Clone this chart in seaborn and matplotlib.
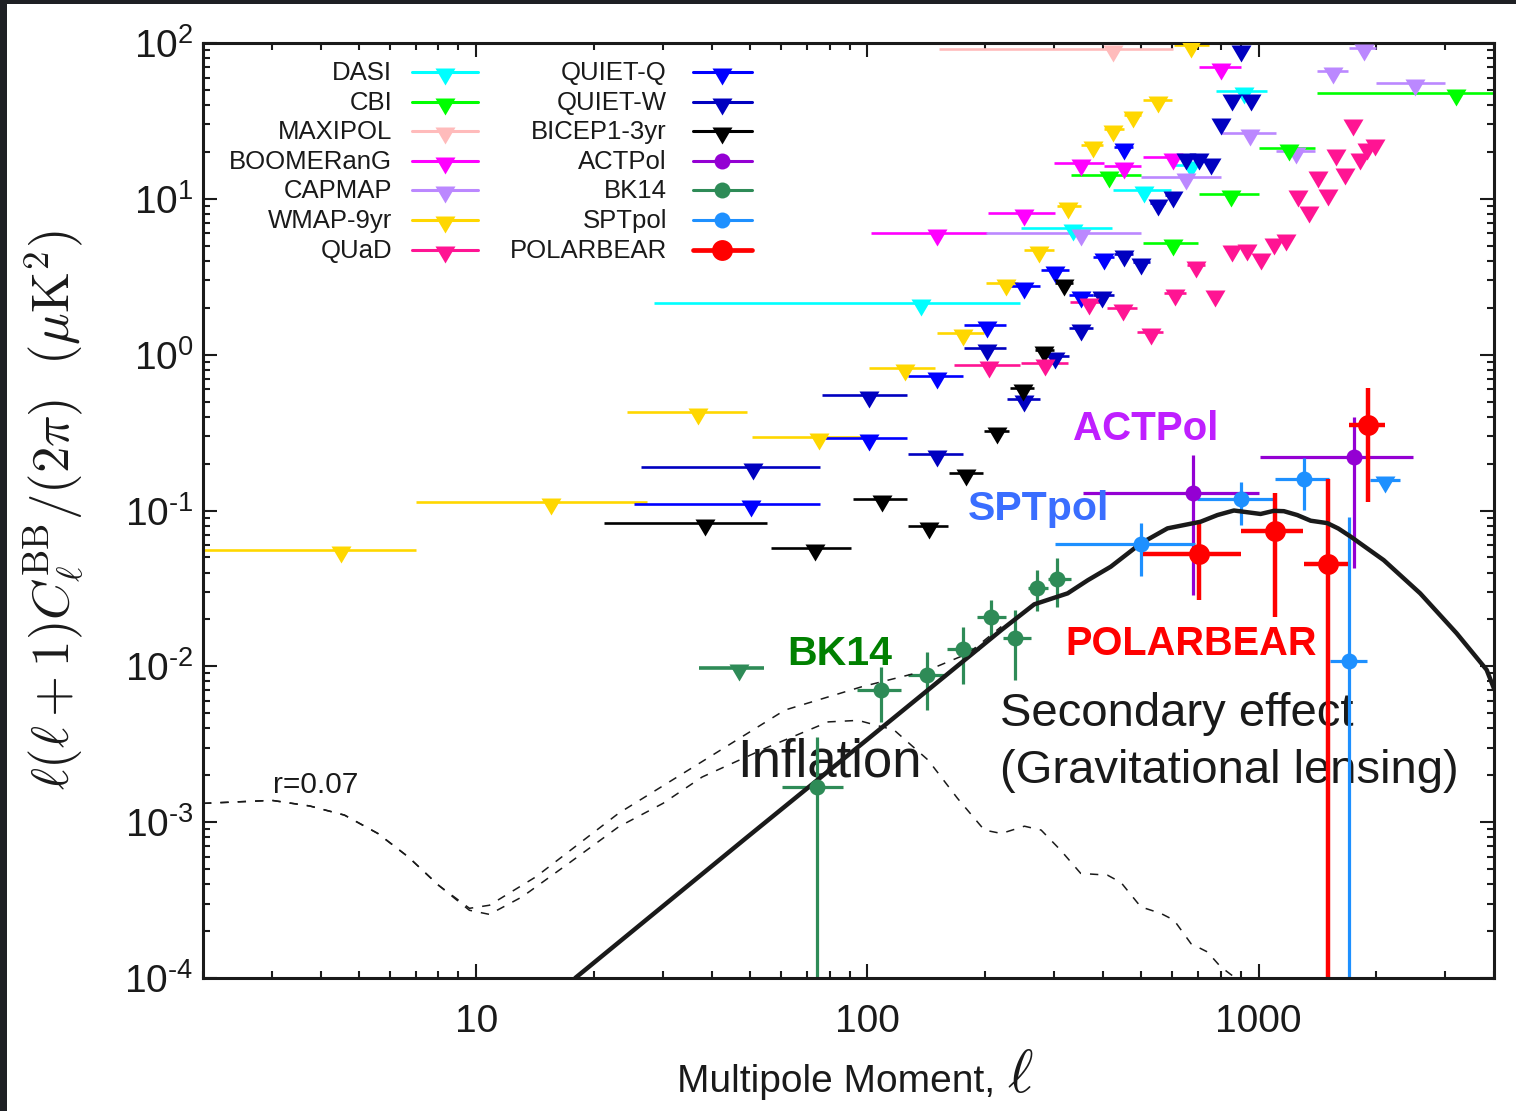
import numpy as np
import matplotlib
matplotlib.use("Agg")
import matplotlib.pyplot as plt
import seaborn as sns
from matplotlib.patches import Rectangle
from matplotlib.ticker import LogLocator, NullFormatter

# theory curves
tens_ell = [2, 3.0, 3.75, 4.6, 5.6, 6.7, 8.0, 9.6, 10.8, 13.1, 17.2, 23.1, 30, 37.8, 55.8, 79.4,
            94.7, 117, 143, 170, 199, 220, 252, 278, 312, 351, 411, 445, 500, 562, 608, 672,
            740, 800, 864, 950]
tens_cl = [1.32e-3, 1.38e-3, 1.27e-3, 1.11e-3, 8.46e-4, 5.98e-4, 3.94e-4, 2.72e-4, 2.56e-4,
           3.32e-4, 5.43e-4, 9.33e-4, 1.32e-3, 1.95e-3, 3.04e-3, 4.40e-3, 4.5e-3, 3.9e-3,
           2.5e-3, 1.42e-3, 8.9e-4, 8.46e-4, 9.42e-4, 8.9e-4, 6.6e-4, 4.69e-4, 4.57e-4,
           4.1e-4, 2.86e-4, 2.6e-4, 2.35e-4, 1.66e-4, 1.47e-4, 1.18e-4, 1.02e-4, 8e-5]
tot_ell = [2, 3.0, 3.75, 4.6, 5.6, 6.7, 8.0, 9.6, 10.8, 14.2, 23.1, 37.8, 61.5, 96.6, 143, 181, 220]
tot_cl = [1.32e-3, 1.38e-3, 1.27e-3, 1.11e-3, 8.46e-4, 5.98e-4, 3.94e-4, 2.8e-4, 2.93e-4,
          4.46e-4, 1.14e-3, 2.45e-3, 5.24e-3, 7.39e-3, 9.46e-3, 1.21e-2, 1.8e-2]
lens_ell = [17.9, 48.6, 100, 160, 220, 267, 325, 366, 419, 500, 585, 711, 785, 865, 935,
            1012, 1094, 1161, 1256, 1359, 1499, 1600, 1720, 2090, 2590, 3210, 3830, 4000]
lens_cl = [1.0e-4, 7.8e-4, 3.4e-3, 8.9e-3, 1.71e-2, 2.5e-2, 2.94e-2, 3.57e-2, 4.36e-2,
           6.15e-2, 7.68e-2, 8.47e-2, 9.35e-2, 1.0e-1, 9.75e-2, 9.5e-2, 9.95e-2, 9.9e-2,
           9.35e-2, 8.6e-2, 8.3e-2, 7.66e-2, 6.8e-2, 4.8e-2, 2.94e-2, 1.63e-2, 9.5e-3, 7.2e-3]

# upper limits: ell, value, bin low, bin high
wmap_ell = [4.5, 15.5, 36.8, 75, 125, 175, 226, 275, 325, 377, 425, 477, 552, 671]
wmap_val = [0.056, 0.113, 0.43, 0.297, 0.817, 1.38, 2.87, 4.69, 9.04, 22.0, 27.9, 34.5, 43.1, 97]
wmap_lo = [2, 7, 24.3, 50.6, 101, 151, 201, 251, 306, 351, 402, 452, 505, 607]
wmap_hi = [7, 27.3, 49.3, 96.6, 149, 199, 242, 300, 351, 400, 452, 502, 600, 745]

dasi_ell = [137, 335, 510, 671, 918]
dasi_val = [2.13, 6.47, 11.4, 16.5, 49.4]
dasi_lo = [28.4, 247, 424, 607, 777]
dasi_hi = [246, 421, 597, 710, 1052]

cbi_ell = [415, 603, 849, 1199, 3200]
cbi_val = [14.2, 5.23, 10.8, 21.3, 48]
cbi_lo = [331, 505, 703, 1000, 1413]
cbi_hi = [500, 702, 1000, 1397, 4000]

maxipol_ell = [424]
maxipol_val = [91]
maxipol_lo = [152]
maxipol_hi = [604]

boom_ell = [151, 252, 351, 452, 603, 804]
boom_val = [6.01, 8.07, 16.9, 16.3, 18.6, 70.5]
boom_lo = [102, 203, 300, 402, 505, 705]
boom_hi = [202, 301, 402, 500, 632, 900]

capmap_ell = [351, 652, 950, 1250, 1553, 1858, 2505]
capmap_val = [6.0, 13.9, 26.3, 20.3, 66.1, 93.3, 55.6]
capmap_lo = [201, 502, 804, 1106, 1413, 1700, 2000]
capmap_hi = [502, 804, 1106, 1397, 1698, 2000, 3000]

quad_ell = [205, 284, 369, 449, 530, 611, 690, 772, 853, 935, 1016, 1094, 1177, 1260, 1344,
            1417, 1502, 1578, 1660, 1744, 1821, 1893, 1988]
quad_val = [0.857, 0.88, 2.19, 1.98, 1.40, 2.47, 3.76, 2.45, 4.76, 4.81, 4.22, 5.31, 5.62,
            10.8, 8.47, 14.2, 10.9, 19.6, 14.9, 30.5, 18.6, 21.6, 22.9]
quad_lo = [166, 247, 330, 410, 490, 572, 655, 750, 830, 910, 990, 1065, 1150, 1235, 1320,
           1395, 1480, 1555, 1640, 1725, 1800, 1875, 1965]
quad_hi = [245, 325, 402, 490, 570, 652, 730, 795, 875, 960, 1040, 1120, 1200, 1285, 1370,
           1440, 1525, 1600, 1680, 1765, 1840, 1910, 2010]

qq_ell = [50.4, 101, 151, 202, 252, 302, 351, 402, 452]
qq_val = [0.110, 0.290, 0.733, 1.55, 2.76, 3.49, 2.42, 4.25, 21.6]
qq_lo = [25.3, 76.7, 127, 177, 228, 278, 328, 378, 428]
qq_hi = [75.7, 126, 176, 226, 277, 327, 377, 427, 477]

qw_ell = [50.9, 101, 151, 202, 252, 302, 351, 399, 452, 502, 552, 603, 652, 705, 755, 800,
          857, 900, 955]
qw_val = [0.189, 0.551, 0.230, 1.10, 0.52, 0.98, 1.48, 2.42, 4.43, 3.94, 9.36, 10.6, 18.6,
          18.5, 17.3, 31.3, 44.2, 92, 44.2]
qw_lo = [26.4, 76.7, 127, 177, 228, 278, 328, 378, 428, 478, 528, 578, 632, 685, 735, 780,
         835, 880, 930]
qw_hi = [75.5, 126, 176, 226, 277, 327, 377, 427, 477, 527, 577, 627, 672, 725, 775, 820,
         880, 920, 980]

bicep_ell = [38.5, 73.5, 109, 144, 179, 214, 250, 283, 318]
bicep_val = [0.0826, 0.0571, 0.118, 0.0798, 0.175, 0.325, 0.608, 1.07, 2.87]
bicep_lo = [21.2, 56.6, 91.7, 127, 162, 199, 232, 268, 302]
bicep_hi = [55.5, 90.6, 126, 161, 198, 230, 266, 300, 336]

spt_ul_ell = [2108]
spt_ul_val = [0.157]
spt_ul_lo = [1930]
spt_ul_hi = [2301]

bk_ul_ell = [47.0]
bk_ul_val = [0.0097]
bk_ul_lo = [37.1]
bk_ul_hi = [54.5]

# detections: ell, value, bin low/high, error low/high
act_ell = [678, 1758]
act_val = [0.129, 0.219]
act_lo = [355, 1006]
act_hi = [1000, 2490]
act_ylo = [0.0286, 0.0425]
act_yhi = [0.227, 0.396]

spt_ell = [502, 904, 1306, 1706]
spt_val = [0.0608, 0.118, 0.159, 0.0108]
spt_lo = [302, 698, 1104, 1527]
spt_hi = [687, 1094, 1510, 1893]
spt_ylo = [0.0379, 0.0806, 0.1007, 1e-6]
spt_yhi = [0.0826, 0.153, 0.216, 0.0912]

bk_ell = [74.1, 108, 142, 175, 207, 239, 272, 306]
bk_val = [1.67e-3, 7.03e-3, 8.79e-3, 0.0129, 0.0208, 0.0152, 0.0316, 0.0366]
bk_lo = [60.5, 94.2, 127, 160, 191, 222, 257, 289]
bk_hi = [86.7, 122, 157, 193, 226, 262, 289, 331]
bk_ylo = [1e-6, 4.41e-3, 5.28e-3, 7.69e-3, 0.0155, 8.15e-3, 0.0227, 0.0241]
bk_yhi = [3.50e-3, 9.93e-3, 0.0124, 0.0178, 0.0266, 0.0230, 0.0414, 0.0493]

pb_ell = [705, 1104, 1502, 1904]
pb_val = [0.0525, 0.0741, 0.0453, 0.353]
pb_lo = [505, 904, 1304, 1707]
pb_hi = [904, 1300, 1698, 2100]
pb_ylo = [0.0266, 0.0206, 1e-6, 0.114]
pb_yhi = [0.0815, 0.130, 0.159, 0.608]

C = {
    "DASI": "#00FFFF", "CBI": "#00FF00", "MAXIPOL": "#FFBBBB", "BOOMERanG": "#FF00FF",
    "CAPMAP": "#BB88FF", "WMAP-9yr": "#FFD700", "QUaD": "#FF1493", "QUIET-Q": "#0000FF",
    "QUIET-W": "#0000C0", "BICEP1-3yr": "#000000", "ACTPol": "#9400D3", "BK14": "#2E8B57",
    "SPTpol": "#1E90FF", "POLARBEAR": "#FF0000",
}

sns.set_theme(style="ticks", rc={"axes.edgecolor": "k", "text.color": "k",
                                 "axes.labelcolor": "k", "xtick.color": "k", "ytick.color": "k"})
plt.rcParams["font.family"] = ["Liberation Sans", "DejaVu Sans"]
plt.rcParams["mathtext.fontset"] = "custom"
plt.rcParams["mathtext.rm"] = "Liberation Sans"
plt.rcParams["mathtext.it"] = "Liberation Sans:italic"
plt.rcParams["mathtext.bf"] = "Liberation Sans:bold"
plt.rcParams["lines.scale_dashes"] = False

W, H = 1516, 1111
fig = plt.figure(figsize=(W / 100, H / 100), dpi=100)
ax = fig.add_axes([203 / W, 1 - 978 / H, 1291 / W, 935 / H])
ax.set_xscale("log")
ax.set_yscale("log")

TRI = [(-1, 0.4), (1, 0.4), (0, -1.3), (-1, 0.4)]
TRI_S = 350


def upper(ell, val, lo, hi, color, lw=1.9):
    ell = np.asarray(ell, float)
    xerr = [ell - np.asarray(lo), np.asarray(hi) - ell]
    ax.errorbar(ell, val, xerr=xerr, fmt="none", ecolor=color, elinewidth=lw, capsize=0, zorder=2)
    sns.scatterplot(x=ell, y=val, ax=ax, marker=TRI, s=TRI_S, color=color, linewidth=0, zorder=4)


def detect(ell, val, lo, hi, ylo, yhi, color, ms=11.5, lw=2.3):
    ell = np.asarray(ell, float)
    val = np.asarray(val, float)
    xerr = [ell - np.asarray(lo), np.asarray(hi) - ell]
    yerr = [val - np.asarray(ylo), np.asarray(yhi) - val]
    ax.errorbar(ell, val, xerr=xerr, yerr=yerr, fmt="none", ecolor=color, elinewidth=lw,
                capsize=0, zorder=2)
    sns.scatterplot(x=ell, y=val, ax=ax, marker="o", s=ms ** 2, color=color, linewidth=0, zorder=4)


upper(maxipol_ell, maxipol_val, maxipol_lo, maxipol_hi, C["MAXIPOL"])
upper(wmap_ell, wmap_val, wmap_lo, wmap_hi, C["WMAP-9yr"])
upper(dasi_ell, dasi_val, dasi_lo, dasi_hi, C["DASI"])
upper(boom_ell, boom_val, boom_lo, boom_hi, C["BOOMERanG"])
upper(capmap_ell, capmap_val, capmap_lo, capmap_hi, C["CAPMAP"])
upper(cbi_ell, cbi_val, cbi_lo, cbi_hi, C["CBI"])
upper(qq_ell, qq_val, qq_lo, qq_hi, C["QUIET-Q"])
upper(qw_ell, qw_val, qw_lo, qw_hi, C["QUIET-W"])
upper(bicep_ell, bicep_val, bicep_lo, bicep_hi, C["BICEP1-3yr"])
upper(quad_ell, quad_val, quad_lo, quad_hi, C["QUaD"])
upper(spt_ul_ell, spt_ul_val, spt_ul_lo, spt_ul_hi, C["SPTpol"], lw=2.3)
upper(bk_ul_ell, bk_ul_val, bk_ul_lo, bk_ul_hi, C["BK14"], lw=2.6)

detect(act_ell, act_val, act_lo, act_hi, act_ylo, act_yhi, C["ACTPol"])
detect(spt_ell, spt_val, spt_lo, spt_hi, spt_ylo, spt_yhi, C["SPTpol"])
detect(bk_ell, bk_val, bk_lo, bk_hi, bk_ylo, bk_yhi, C["BK14"])
detect(pb_ell, pb_val, pb_lo, pb_hi, pb_ylo, pb_yhi, C["POLARBEAR"], ms=15, lw=3.2)

# theory curves
sns.lineplot(x=lens_ell, y=lens_cl, ax=ax, color="k", lw=3.2, zorder=3)
sns.lineplot(x=tens_ell, y=tens_cl, ax=ax, color="k", lw=1.1, linestyle=(0, (6, 6.5)), zorder=3)
sns.lineplot(x=tot_ell, y=tot_cl, ax=ax, color="k", lw=1.1, linestyle=(0, (6, 6.5)), zorder=3)

ax.set_xlim(2, 4000)
ax.set_ylim(1e-4, 1e2)
ax.set_xticks([10, 100, 1000])
ax.set_xticklabels(["10", "100", "1000"])
ax.set_yticks([1e-4, 1e-3, 1e-2, 1e-1, 1e0, 1e1, 1e2])
ylabels = []
for e in range(-4, 3):
    if e < 0:
        ylabels.append(r"$\mathregular{10^{\text{-}%d}}$" % (-e))
    else:
        ylabels.append(r"$\mathregular{10^{%d}}$" % e)
ax.set_yticklabels(ylabels)
for axis in (ax.xaxis, ax.yaxis):
    axis.set_minor_locator(LogLocator(base=10, subs=np.arange(2, 10), numticks=20))
    axis.set_minor_formatter(NullFormatter())
ax.tick_params(which="both", direction="in", top=True, right=True, width=1.5, colors="k")
ax.tick_params(which="major", length=10, labelsize=28)
ax.tick_params(which="minor", length=5)
ax.tick_params(axis="x", which="major", pad=19)
ax.tick_params(axis="y", which="major", pad=7)
for sp in ax.spines.values():
    sp.set_linewidth(2.2)
    sp.set_color("k")

ax.set_ylabel(r"$\ell(\ell+1)C_\ell^{\mathrm{BB}}/(2\pi)\ \ (\mu\mathrm{K}^2)$", fontsize=38,
              math_fontfamily="cm")
ax.yaxis.set_label_coords(-0.090, 0.5)
ax.set_xlabel("")
fig.text(677 / W, 1 - 1092 / H, "Multipole Moment,", fontsize=28, ha="left", va="baseline")
fig.text(1007 / W, 1 - 1092 / H, r"$\ell$", fontsize=44, ha="left", va="baseline",
         math_fontfamily="cm")

# annotations
ax.text(0.6737, 0.5754, "ACTPol", transform=ax.transAxes, fontsize=29, fontweight="bold",
        color="#BF1FFF", zorder=5)
ax.text(0.5926, 0.4898, "SPTpol", transform=ax.transAxes, fontsize=29.5, fontweight="bold",
        color="#3A6EFF", zorder=5)
ax.text(0.6683, 0.3455, "POLARBEAR", transform=ax.transAxes, fontsize=28.6, fontweight="bold",
        color="#FF0000", zorder=5)
ax.text(0.4526, 0.3348, "BK14", transform=ax.transAxes, fontsize=29.5, fontweight="bold",
        color="#008000", zorder=5)
ax.text(0.414, 0.2150, "Inflation", transform=ax.transAxes, fontsize=38, zorder=1)
ax.text(0.6173, 0.2695, "Secondary effect", transform=ax.transAxes, fontsize=34, zorder=1)
ax.text(0.6173, 0.2086, "(Gravitational lensing)", transform=ax.transAxes, fontsize=34, zorder=1)
ax.text(0.054, 0.1975, "r=0.07", transform=ax.transAxes, fontsize=21.5, zorder=1)

# legend, drawn by hand in two right-aligned columns
left_col = ["DASI", "CBI", "MAXIPOL", "BOOMERanG", "CAPMAP", "WMAP-9yr", "QUaD"]
right_col = ["QUIET-Q", "QUIET-W", "BICEP1-3yr", "ACTPol", "BK14", "SPTpol", "POLARBEAR"]
rows = [0.969, 0.937, 0.906, 0.874, 0.843, 0.811, 0.779]
for names, tx, l0, l1, mx in [(left_col, 0.1464, 0.162, 0.213, 0.1875),
                              (right_col, 0.3594, 0.3796, 0.4253, 0.402)]:
    for name, y in zip(names, rows):
        col = C[name]
        ax.text(tx, y - 0.0091, name, transform=ax.transAxes, ha="right", va="baseline",
                fontsize=18.5, zorder=6)
        lw = 3.4 if name == "POLARBEAR" else 2.2
        ax.plot([l0, l1], [y, y], transform=ax.transAxes, color=col, lw=lw, zorder=6)
        if name in ("ACTPol", "BK14", "SPTpol", "POLARBEAR"):
            ms = 15 if name == "POLARBEAR" else 11.5
            ax.plot([mx], [y], transform=ax.transAxes, marker="o", ms=ms, color=col,
                    mec="none", zorder=7)
        else:
            ax.plot([mx], [y], transform=ax.transAxes, marker=TRI, ms=np.sqrt(TRI_S),
                    color=col, mec="none", zorder=7)

# dark slide edges around the picture
fig.add_artist(Rectangle((0, 0), 7 / W, 1, transform=fig.transFigure, facecolor="#1e2024",
                         edgecolor="none", zorder=10))
fig.add_artist(Rectangle((0, 1 - 4 / H), 1, 4 / H, transform=fig.transFigure,
                         facecolor="#1e2024", edgecolor="none", zorder=10))

fig.savefig("out.png", dpi=100)
